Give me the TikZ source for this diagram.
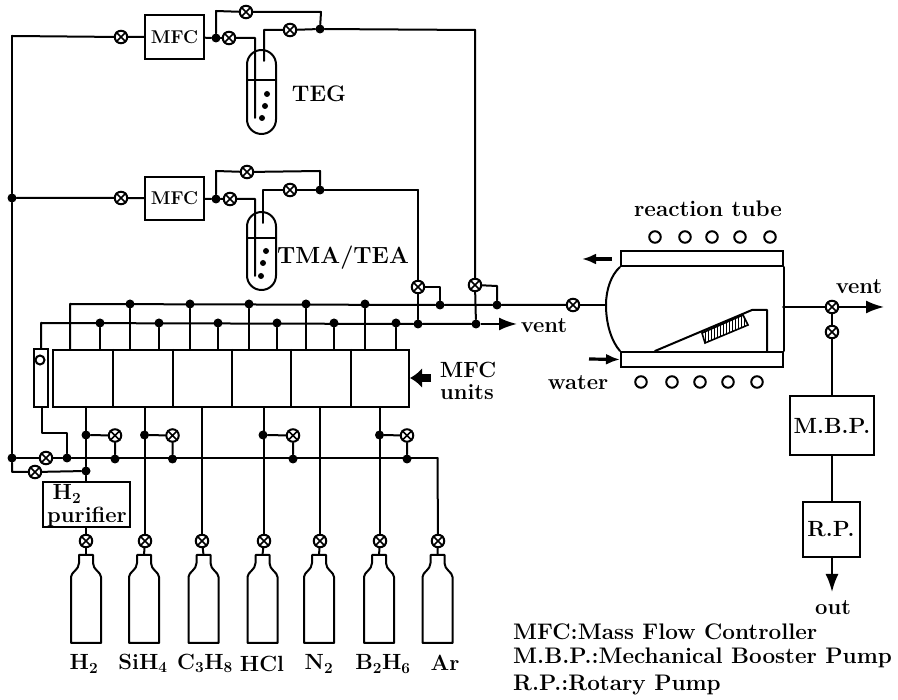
\documentclass[tikz,border=0pt]{standalone}
\usetikzlibrary{arrows.meta,patterns}
\tikzset{
  x=1pt,y=-1pt,
  pipe/.style={line width=2pt,line cap=round,line join=round},
  dotj/.style={circle,fill=black,inner sep=0pt,minimum size=9pt},
  valvec/.style={circle,draw,line width=2pt,fill=white,inner sep=0pt,minimum size=12.5pt},
  box/.style={draw,line width=2pt,fill=white,inner sep=0pt,align=center},
  lab/.style={font=\fontsize{18.5}{19}\selectfont\bfseries,inner sep=0pt},
  labs/.style={font=\fontsize{22}{22}\selectfont\bfseries,inner sep=0pt},
  labl/.style={font=\fontsize{22.5}{23}\selectfont\bfseries,inner sep=0pt},
  labb/.style={font=\fontsize{23.4}{24}\selectfont\bfseries,inner sep=0pt},
  coil/.style={circle,draw,line width=2pt,inner sep=0pt,minimum size=11.5pt},
  flow/.style={-{Latex[length=18pt,width=13pt]},line width=2pt},
  stub/.style={-{Latex[length=14pt,width=11pt]},line width=3.2pt},
}
\newcommand{\valve}[3]{\node[valvec] (#1) at (#2,#3) {};
  \draw[line width=1.5pt] (#1.45) -- (#1.225) (#1.135) -- (#1.315);}
\newcommand{\cylinder}[4]{%
  \draw[pipe,fill=white] (#1-#2,#4) -- (#1-#2,#3+22)
   .. controls (#1-#2,#3+17) and (#1-7,#3+15) .. (#1-7,#3+8) -- (#1-7,#3) -- (#1+7,#3) -- (#1+7,#3+8)
   .. controls (#1+7,#3+15) and (#1+#2,#3+17) .. (#1+#2,#3+22) -- (#1+#2,#4) -- cycle;}
\newcommand{\bubbler}[4]{%
  \draw[pipe] (#1-14.5,#2+14.5) arc[start angle=180,end angle=360,radius=14.5] -- (#1+14.5,#3-14.5) arc[start angle=0,end angle=180,radius=14.5] -- cycle;
  \draw[pipe] (#1-14.5,#4) -- (#1+14.5,#4);}
\begin{document}
\begin{tikzpicture}
\useasboundingbox (0,0) rectangle (898,700);
\fill[white] (0,0) rectangle (898,700);

\coordinate (tl) at (12,36);
\node[dotj] (dA) at (12,198) {};
\node[dotj] (dB) at (12,458) {};
\draw[pipe] (tl) -- (dA) -- (dB);

% upper branch
\valve{v1}{121}{37}
\node[box,lab,minimum width=59pt,minimum height=44pt] (mfc1) at (174.5,37) {MFC};
\node[dotj] (d1) at (216,38) {};
\valve{v2}{229}{38}
\valve{v3}{246}{12}
\valve{v4}{290}{30}
\node[dotj] (d2) at (320,29) {};
\coordinate (c1) at (216,11);
\coordinate (c2) at (321,12);
\coordinate (c3) at (255,38);
\coordinate (c4) at (255,118);
\coordinate (c5) at (264,30);
\coordinate (c6) at (264,61);
\coordinate (c7) at (475,30);
\draw[pipe] (tl) -- (v1) -- (mfc1) (mfc1) -- (d1) -- (v2) -- (c3) -- (c4);
\draw[pipe] (d1) -- (c1) -- (v3) -- (c2) -- (d2);
\draw[pipe] (c6) -- (c5) -- (v4) -- (d2) -- (c7);
\bubbler{261.5}{50}{134}{80}
\fill (267,94) circle (3pt) (265,106) circle (3pt) (262,118) circle (3pt);
\node[labl] (teg) at (319,94) {TEG};

% second branch
\valve{v5}{121}{198}
\node[box,lab,minimum width=59pt,minimum height=43pt] (mfc2) at (174.5,198.5) {MFC};
\node[dotj] (d3) at (216,199) {};
\valve{v6}{230}{199}
\valve{v7}{247}{172}
\valve{v8}{290}{190}
\node[dotj] (d4) at (320,190) {};
\coordinate (e1) at (216,171);
\coordinate (e2) at (320,171);
\coordinate (e3) at (255,199);
\coordinate (e4) at (255,276);
\coordinate (e5) at (263,190);
\coordinate (e6) at (263,223);
\coordinate (e7) at (418,190);
\draw[pipe] (dA) -- (v5) -- (mfc2) (mfc2) -- (d3) -- (v6) -- (e3) -- (e4);
\draw[pipe] (d3) -- (e1) -- (v7) -- (e2) -- (d4);
\draw[pipe] (e6) -- (e5) -- (v8) -- (d4) -- (e7);
\bubbler{261.5}{212}{290}{238}
\fill (266,251) circle (3pt) (263,263) circle (3pt) (261,276) circle (3pt);
\node[labb] (tma) at (343,258) {TMA/TEA};

% MFC block
\node[box,minimum width=356pt,minimum height=57pt] (blk) at (231,378.5) {};
\foreach \x in {113,173,232,291,351} {
  \coordinate (dv) at (\x,378);
  \draw[line width=2pt] (blk.north -| dv) -- (blk.south -| dv);
}
\node[box,minimum width=14pt,minimum height=58pt] (side) at (41,378) {};
\node[circle,draw,line width=2pt,fill=white,minimum size=9pt,inner sep=0pt] (sidec) at (40,360) {};

% header lines
\coordinate (ua) at (70,304);
\coordinate (ub) at (41,323);
\valve{v11}{573}{305}
\node[dotj] (h1) at (440,305) {};
\node[dotj] (h2) at (497,305) {};
\node[dotj] (l1) at (418,324) {};
\node[dotj] (l2) at (476,324) {};
\valve{v9}{418}{287}
\valve{v10}{475}{285}
\coordinate (vt1) at (517,324);
\coordinate (vb1) at (440,287);
\coordinate (vb2) at (497,286);
\draw[pipe] (blk.north -| ua) -- (ua) -- (h1) -- (h2) -- (v11);
\draw[pipe] (side.north -| ub) -- (ub) -- (l1) -- (l2);
\draw[flow] (l2) -- (vt1);
\draw[pipe] (e7) -- (v9) -- (l1);
\draw[pipe] (c7) -- (v10) -- (l2);
\draw[pipe] (v9) -- (vb1) -- (h1);
\draw[pipe] (v10) -- (vb2) -- (h2);
\node[labs] (vent1) at (544,326) {vent};
\foreach \n/\x in {1/130,2/190,3/249,4/306,5/365} {
  \node[dotj] (u\n) at (\x,304) {};
  \draw[pipe] (u\n) -- (blk.north -| u\n);
}
\foreach \n/\x in {1/100,2/159,3/218,4/277,5/334,6/396} {
  \node[dotj] (w\n) at (\x,323) {};
  \draw[pipe] (w\n) -- (blk.north -| w\n);
}

% lower manifold
\valve{m1}{46}{458}
\node[dotj] (m2) at (67,458) {};
\coordinate (m3) at (437.5,458);
\coordinate (s1) at (42,433);
\coordinate (s2) at (67,433);
\coordinate (s3) at (12,472);
\valve{n1}{35}{472}
\node[dotj] (n2) at (86,471) {};
\draw[pipe] (dB) -- (m1) -- (m2) -- (m3);
\draw[pipe] (side.south -| s1) -- (s1) -- (s2) -- (m2);
\draw[pipe] (dB) -- (s3) -- (n1) -- (n2);

\foreach \n/\xa/\xb in {1/86/115,2/144.5/172.5,3/263/293,4/379.5/407} {
  \node[dotj] (p\n) at (\xa,435) {};
  \valve{q\n}{\xb}{435.5}
  \node[dotj] (r\n) at (\xb,459) {};
  \draw[pipe] (p\n) -- (q\n) -- (r\n);
}

% purifier, valves, cylinders
\node[box,minimum width=87pt,minimum height=45pt] (pur) at (86,504.5) {};
\node[labs] (pt1) at (67,494) {H\textsubscript{2}};
\node[labs] (pt2) at (87,517) {purifier};
\draw[pipe] (blk.south -| n2) -- (n2) -- (pur.north -| n2);
\foreach \n/\x/\c in {1/86/86,2/145/144,3/202/203.5,4/264/262.5,5/320/319,6/380/379,7/438/437.5} {
  \valve{g\n}{\x}{541}
  \cylinder{\c}{15}{555}{643}
  \coordinate (k\n) at (\c,555);
  \draw[pipe] (g\n) -- (k\n);
}
\draw[pipe] (pur) -- (g1);
\draw[pipe] (blk.south -| g2) -- (g2);
\draw[pipe] (blk.south -| g3) -- (g3);
\draw[pipe] (blk.south -| g4) -- (g4);
\draw[pipe] (blk.south -| g5) -- (g5);
\draw[pipe] (blk.south -| g6) -- (g6);
\draw[pipe] (m3) -- (g7);

% gas labels
\node[labs] (t1) at (84,664) {H\textsubscript{2}};
\node[labs] (t2) at (143,663) {SiH\textsubscript{4}};
\node[labs] (t3) at (205,663) {C\textsubscript{3}H\textsubscript{8}};
\node[labs] (t4) at (262,664) {HCl};
\node[labs] (t5) at (319,664) {N\textsubscript{2}};
\node[labs] (t6) at (383,664) {B\textsubscript{2}H\textsubscript{6}};
\node[labs] (t7) at (445,663) {Ar};

% MFC units label
\node[labs] (mu1) at (468,370) {MFC};
\node[labs] (mu2) at (467,392) {units};
\coordinate (mua) at (431,378);
\draw[-{Latex[length=12pt,width=20pt]},line width=8pt] (mua) -- (blk.east |- mua);

% reaction tube
\node[box,minimum width=162pt,minimum height=15pt] (ja) at (702,258.5) {};
\node[box,minimum width=162pt,minimum height=15pt] (jb) at (702,359.5) {};
\coordinate (t0) at (606,305);
\draw[pipe] (ja.south west) .. controls (611,275) and (606,290) .. (t0) .. controls (606,325) and (612,342) .. (jb.north west);
\draw[pipe] (ja.south east) -- (jb.north east);
\draw[pipe] (v11) -- (t0);
\draw[pipe] (655,351) -- (752,310) -- (767,310) -- (767,352);
\draw[line width=1.6pt,fill=white,pattern=vertical lines] (702,333) -- (743,315) -- (748,325) -- (705,343) -- cycle;
\foreach \x in {655,685,712,740,770} \node[coil] at (\x,237) {};
\foreach \x in {641,672,700,728,757} \node[coil] at (\x,382) {};
\node[labl] (rt) at (708,209) {reaction tube};
\node[labs] (wat) at (578,383) {water};
\coordinate (a1) at (612,259);
\coordinate (a2) at (582,259);
\coordinate (a3) at (589,359);
\draw[stub] (a1) -- (a2);
\draw[stub] (a3) -- (jb.west);

% exhaust
\coordinate (ex0) at (783,307);
\valve{x1}{832}{307}
\valve{x2}{832}{332}
\coordinate (ex1) at (884,307);
\draw[pipe] (ex0) -- (x1);
\draw[flow] (x1) -- (ex1);
\node[labs] (vent2) at (859,287) {vent};
\node[box,labs,minimum width=84pt,minimum height=59pt] (mbp) at (832,425.5) {M.B.P.};
\node[box,labs,minimum width=57pt,minimum height=55pt] (rp) at (831,529.5) {R.P.};
\draw[pipe] (x1) -- (x2) -- (x2 |- mbp.north);
\draw[pipe] (mbp.south -| x2) -- (rp.north -| x2);
\coordinate (ex2) at (832,592);
\draw[flow] (rp.south -| ex2) -- (ex2);
\node[labs] (outt) at (833,608) {out};

% legend
\node[labl,anchor=west] (le1) at (513,632) {MFC:Mass Flow Controller};
\node[labl,anchor=west] (le2) at (513,658) {M.B.P.:Mechanical Booster Pump};
\node[labl,anchor=west] (le3) at (513,685) {R.P.:Rotary Pump};
\end{tikzpicture}
\end{document}
